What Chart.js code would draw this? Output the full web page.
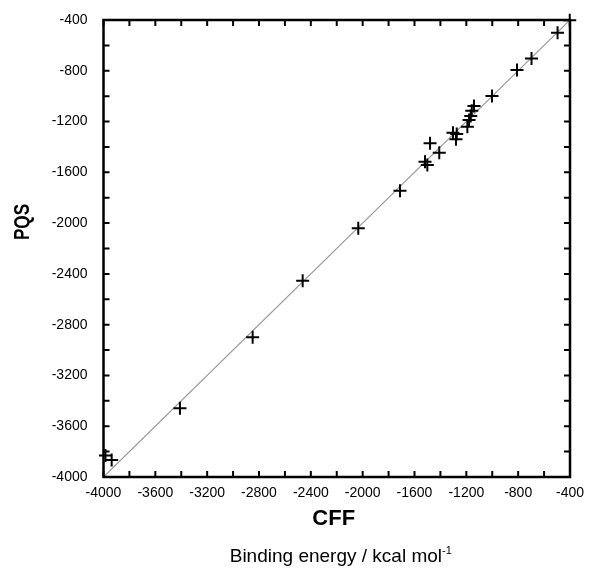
<!DOCTYPE html>
<html>
<head>
<meta charset="utf-8">
<script src="https://cdn.jsdelivr.net/npm/chart.js@4"></script>
<style>
  html, body { margin: 0; padding: 0; background: #fff; }
  #wrap { width: 589px; height: 571px; }
</style>
</head>
<body>
<div id="wrap"><canvas id="chart" width="589" height="571"></canvas></div>
<script>
// binding energies, kcal/mol
const cffValues = [-402, -496, -697, -809, -1002, -1141, -1158, -1166, -1179, -1192,
  -1303, -1274, -1280, -1480, -1409, -1519, -1501, -1712, -2034, -2463, -2849, -3410, -3937, -3985];
const pqsValues = [-402, -500, -703, -794, -999, -1077, -1115, -1156, -1188, -1240,
  -1288, -1298, -1340, -1371, -1445, -1516, -1542, -1745, -2041, -2454, -2900, -3459, -3866, -3830];
// y = x reference line
const diagX = [-4000, -400];
const diagY = [-4000, -400];
const axisMin = -4000, axisMax = -400;
const minorStep = 200, labelStep = 400;

const xTitle = 'CFF';
const yTitle = 'PQS';
const unitText = 'Binding energy / kcal mol';
const unitSup = '-1';

const tickFont = { family: 'Liberation Sans, Arial, sans-serif', size: 14 };

// frame + inward ticks on all four sides, plus the axis titles
const framePlugin = {
  id: 'frame',
  afterDraw(chart) {
    const { ctx, chartArea: a, scales } = chart;
    ctx.save();
    ctx.strokeStyle = '#000';
    ctx.lineWidth = 2;
    const len = 6;
    scales.x.ticks.forEach(t => {
      const px = scales.x.getPixelForValue(t.value);
      ctx.beginPath();
      ctx.moveTo(px, a.bottom); ctx.lineTo(px, a.bottom - len);
      ctx.moveTo(px, a.top); ctx.lineTo(px, a.top + len);
      ctx.stroke();
    });
    scales.y.ticks.forEach(t => {
      const py = scales.y.getPixelForValue(t.value);
      ctx.beginPath();
      ctx.moveTo(a.left, py); ctx.lineTo(a.left + len, py);
      ctx.moveTo(a.right, py); ctx.lineTo(a.right - len, py);
      ctx.stroke();
    });
    ctx.lineWidth = 2.5;
    ctx.strokeRect(a.left, a.top, a.right - a.left, a.bottom - a.top);

    ctx.fillStyle = '#000';
    ctx.textAlign = 'center';
    ctx.textBaseline = 'middle';
    const cx = (a.left + a.right) / 2;
    ctx.font = 'bold 22px Liberation Sans, Arial, sans-serif';
    ctx.fillText(xTitle, cx - 3, a.bottom + 42);

    ctx.save();
    ctx.translate(23, 222);
    ctx.rotate(-Math.PI / 2);
    ctx.scale(0.78, 1);
    ctx.fillText(yTitle, 0, 0);
    ctx.restore();

    ctx.font = '19px Liberation Sans, Arial, sans-serif';
    const w1 = ctx.measureText(unitText).width;
    ctx.font = '11px Liberation Sans, Arial, sans-serif';
    const w2 = ctx.measureText(unitSup).width;
    const x0 = cx + 4 - (w1 + w2) / 2;
    ctx.textAlign = 'left';
    ctx.font = '19px Liberation Sans, Arial, sans-serif';
    ctx.fillText(unitText, x0, a.bottom + 80);
    ctx.font = '11px Liberation Sans, Arial, sans-serif';
    ctx.fillText(unitSup, x0 + w1, a.bottom + 74);
    ctx.restore();
  }
};

new Chart(document.getElementById('chart'), {
  type: 'scatter',
  data: {
    datasets: [
      {
        data: cffValues.map((v, i) => ({ x: v, y: pqsValues[i] })),
        pointStyle: 'cross',
        pointRadius: 6.5,
        pointBorderWidth: 2,
        borderColor: '#000',
        backgroundColor: '#000',
        clip: false,
        order: 0
      },
      {
        type: 'line',
        data: diagX.map((v, i) => ({ x: v, y: diagY[i] })),
        borderColor: '#9a9a9a',
        borderWidth: 1.2,
        pointRadius: 0,
        fill: false,
        order: 1
      }
    ]
  },
  options: {
    responsive: false,
    animation: false,
    layout: { padding: { left: 0, right: 19, top: 20, bottom: 0 } },
    plugins: { legend: { display: false }, tooltip: { enabled: false } },
    scales: {
      x: {
        type: 'linear',
        min: axisMin, max: axisMax,
        afterFit: s => { s.height = 94; s.paddingLeft = 0; s.paddingRight = 0; },
        grid: { display: false, drawTicks: false },
        border: { display: false },
        ticks: {
          stepSize: minorStep,
          autoSkip: false,
          maxRotation: 0,
          padding: 8,
          color: '#000',
          font: tickFont,
          callback: v => (v % labelStep === 0 ? String(v) : '')
        }
      },
      y: {
        type: 'linear',
        min: axisMin, max: axisMax,
        afterFit: s => { s.width = 103.5; s.paddingTop = 0; s.paddingBottom = 0; },
        grid: { display: false, drawTicks: false },
        border: { display: false },
        ticks: {
          stepSize: minorStep,
          autoSkip: false,
          padding: 16,
          color: '#000',
          font: tickFont,
          callback: v => (v % labelStep === 0 ? String(v) : '')
        }
      }
    }
  },
  plugins: [framePlugin]
});
</script>
</body>
</html>
